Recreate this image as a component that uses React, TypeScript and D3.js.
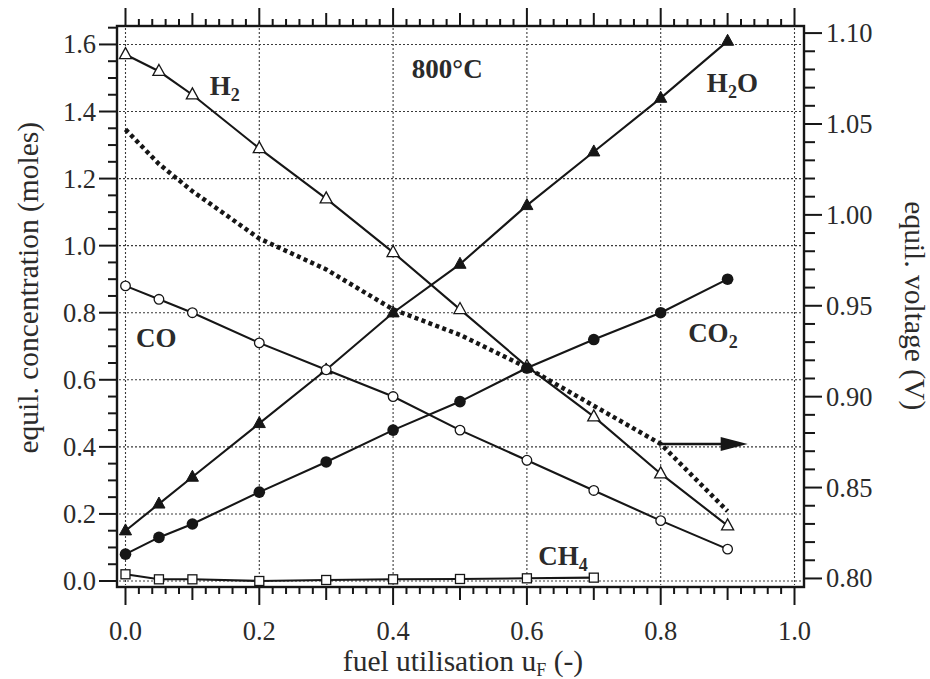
import React from "react";
import * as d3 from "d3";

// ---------- data ----------
const uF = [0, 0.05, 0.1, 0.2, 0.3, 0.4, 0.5, 0.6, 0.7, 0.8, 0.9];
const H2 = [1.57, 1.52, 1.45, 1.29, 1.14, 0.98, 0.81, 0.64, 0.49, 0.32, 0.165];
const H2O = [0.15, 0.23, 0.31, 0.47, 0.63, 0.8, 0.945, 1.12, 1.28, 1.44, 1.61];
const CO = [0.88, 0.84, 0.8, 0.71, 0.63, 0.55, 0.45, 0.36, 0.27, 0.18, 0.095];
const CO2 = [0.08, 0.13, 0.17, 0.265, 0.355, 0.45, 0.535, 0.635, 0.72, 0.8, 0.9];
const uF_CH4 = [0, 0.05, 0.1, 0.2, 0.3, 0.4, 0.5, 0.6, 0.7];
const CH4 = [0.02, 0.005, 0.005, 0.0, 0.003, 0.005, 0.006, 0.008, 0.01];
const VOLT = [1.047, 1.028, 1.013, 0.987, 0.97, 0.948, 0.934, 0.916, 0.895, 0.874, 0.837];

const X_TICKS = [0, 0.2, 0.4, 0.6, 0.8, 1.0];
const X_LABELS = ["0.0", "0.2", "0.4", "0.6", "0.8", "1.0"];
const Y_TICKS = [0, 0.2, 0.4, 0.6, 0.8, 1.0, 1.2, 1.4, 1.6];
const Y_LABELS = ["0.0", "0.2", "0.4", "0.6", "0.8", "1.0", "1.2", "1.4", "1.6"];
const V_TICKS = [0.8, 0.85, 0.9, 0.95, 1.0, 1.05, 1.1];
const V_LABELS = ["0.80", "0.85", "0.90", "0.95", "1.00", "1.05", "1.10"];

const X_TITLE = "fuel utilisation u";
const Y_TITLE = "equil. concentration (moles)";
const V_TITLE = "equil. voltage (V)";
const TEMP_LABEL = "800°C";

// arrow annotation (points to right axis) in data units
const ARROW = { from: 0.8, to: 0.93, v: 0.874 };

// ---------- layout ----------
const W = 930;
const H = 679;
const FL = 117, FR = 804, FT = 26, FB = 587;
const X_DOMAIN = [-0.0127, 1.0142];
const Y_DOMAIN = [-0.0179, 1.655];
const V_DOMAIN = [0.7953, 1.1039];

const FONT = "'Liberation Serif', 'Times New Roman', serif";
const INK = "#161616";
const TXT = "#2b2b2b";

export default function App() {
  const x = d3.scaleLinear().domain(X_DOMAIN).range([FL, FR]);
  const y = d3.scaleLinear().domain(Y_DOMAIN).range([FB, FT]);
  const yv = d3.scaleLinear().domain(V_DOMAIN).range([FB, FT]);

  const line = d3
    .line<[number, number]>()
    .x((d) => x(d[0]))
    .y((d) => y(d[1]));
  const vline = d3
    .line<[number, number]>()
    .x((d) => x(d[0]))
    .y((d) => yv(d[1]));

  const zip = (xs: number[], ys: number[]) => xs.map((v, i) => [v, ys[i]] as [number, number]);

  const h2 = zip(uF, H2);
  const h2o = zip(uF, H2O);
  const co = zip(uF, CO);
  const co2 = zip(uF, CO2);
  const ch4 = zip(uF_CH4, CH4);
  const volt = zip(uF, VOLT);

  // tick sets
  const bottomTicks = d3.range(0, 51).map((i) => ({ v: i * 0.02, kind: i % 10 === 0 ? 2 : i % 5 === 0 ? 1 : 0 }));
  const leftTicks = d3.range(0, 34).map((i) => ({ v: i * 0.05, kind: i % 4 === 0 ? 2 : 0 })).filter((t) => t.v <= Y_DOMAIN[1]);
  const rightTicks = d3.range(0, 31).map((i) => ({ v: 0.8 + i * 0.01, kind: i % 5 === 0 ? 2 : 0 }));
  const hLen = [7, 13, 18];
  const vLen = [9, 9, 18];
  const rLen = [11, 11, 18];

  const tri = (cx: number, cy: number, s: number) =>
    `M${cx},${cy - s * 0.62} L${cx + s * 0.55},${cy + s * 0.38} L${cx - s * 0.55},${cy + s * 0.38} Z`;

  const subStyle = { fontSize: 18 } as React.CSSProperties;

  return (
    <svg
      width={W}
      height={H}
      viewBox={`0 0 ${W} ${H}`}
      style={{ position: "absolute", left: 0, top: 0, background: "#ffffff" }}
      fontFamily={FONT}
    >
      <rect x={0} y={0} width={W} height={H} fill="#fff" />

      {/* grid */}
      <g stroke="#3a3a3a" strokeWidth={1.1} strokeDasharray="2,2" fill="none">
        {X_TICKS.map((t) => (
          <line key={"gx" + t} x1={x(t)} x2={x(t)} y1={FT + 2} y2={FB - 2} />
        ))}
        {Y_TICKS.map((t) => (
          <line key={"gy" + t} x1={FL + 2} x2={FR - 2} y1={y(t)} y2={y(t)} />
        ))}
      </g>

      {/* frame */}
      <rect x={FL} y={FT} width={FR - FL} height={FB - FT} fill="none" stroke={INK} strokeWidth={2.4} />

      {/* ticks */}
      <g stroke={INK} strokeWidth={2}>
        {bottomTicks.map((t, i) => (
          <g key={"bt" + i}>
            <line x1={x(t.v)} x2={x(t.v)} y1={FB} y2={FB + hLen[t.kind]} />
            <line x1={x(t.v)} x2={x(t.v)} y1={FT} y2={FT - hLen[t.kind]} />
          </g>
        ))}
        {leftTicks.map((t, i) => (
          <line key={"lt" + i} x1={FL} x2={FL - vLen[t.kind]} y1={y(t.v)} y2={y(t.v)} />
        ))}
        {rightTicks.map((t, i) => (
          <line key={"rt" + i} x1={FR} x2={FR + rLen[t.kind]} y1={yv(t.v)} y2={yv(t.v)} />
        ))}
      </g>

      {/* tick labels */}
      <g fill={TXT} fontSize={26.5}>
        {X_TICKS.map((t, i) => (
          <text key={"xl" + t} x={x(t)} y={640} textAnchor="middle">
            {X_LABELS[i]}
          </text>
        ))}
        {Y_TICKS.map((t, i) => (
          <text key={"yl" + t} x={FL - 21} y={y(t)} dy="0.34em" textAnchor="end">
            {Y_LABELS[i]}
          </text>
        ))}
        {V_TICKS.map((t, i) => (
          <text key={"vl" + t} x={FR + 22} y={yv(t)} dy="0.34em" textAnchor="start">
            {V_LABELS[i]}
          </text>
        ))}
      </g>

      {/* axis titles */}
      <g fill={TXT} fontSize={29.5}>
        <text x={(x(0) + x(1)) / 2 + 3} y={671} textAnchor="middle">
          {X_TITLE}
          <tspan fontSize={18} dy={5}>F</tspan>
          <tspan dy={-5}> (-)</tspan>
        </text>
        <text transform={`translate(38, ${(y(0) + y(1.6)) / 2 - 25}) rotate(-90)`} textAnchor="middle">
          {Y_TITLE}
        </text>
        <text transform={`translate(905, ${(yv(0.8) + yv(1.1)) / 2}) rotate(90)`} textAnchor="middle">
          {V_TITLE}
        </text>
      </g>

      {/* voltage (dotted, right axis) */}
      <path d={vline(volt) || ""} fill="none" stroke={INK} strokeWidth={4.5} strokeDasharray="4,3.4" />

      {/* arrow */}
      <line x1={x(ARROW.from)} x2={x(ARROW.to) - 24} y1={yv(ARROW.v)} y2={yv(ARROW.v)} stroke={INK} strokeWidth={2.4} />
      <path
        d={`M${x(ARROW.to)},${yv(ARROW.v)} L${x(ARROW.to) - 27},${yv(ARROW.v) - 7} L${x(ARROW.to) - 27},${yv(ARROW.v) + 7} Z`}
        fill={INK}
      />

      {/* series lines */}
      <g fill="none" stroke={INK} strokeWidth={2.1}>
        <path d={line(h2) || ""} />
        <path d={line(h2o) || ""} />
        <path d={line(co) || ""} />
        <path d={line(co2) || ""} />
        <path d={line(ch4) || ""} />
      </g>

      {/* markers */}
      <g>
        {h2.map((d, i) => (
          <path key={"m1" + i} d={tri(x(d[0]), y(d[1]), 11)} fill="#fff" stroke={INK} strokeWidth={1.3} />
        ))}
        {h2o.map((d, i) => (
          <path key={"m2" + i} d={tri(x(d[0]), y(d[1]), 11)} fill={INK} stroke={INK} strokeWidth={1} />
        ))}
        {co.map((d, i) => (
          <circle key={"m3" + i} cx={x(d[0])} cy={y(d[1])} r={4.8} fill="#fff" stroke={INK} strokeWidth={1.3} />
        ))}
        {co2.map((d, i) => (
          <circle key={"m4" + i} cx={x(d[0])} cy={y(d[1])} r={5.8} fill={INK} />
        ))}
        {ch4.map((d, i) => (
          <rect key={"m5" + i} x={x(d[0]) - 4.5} y={y(d[1]) - 4.5} width={9} height={9} fill="#fff" stroke={INK} strokeWidth={1.3} />
        ))}
      </g>

      {/* series labels */}
      <g fill={TXT} fontSize={27} fontWeight="bold">
        <text x={x(0.126)} y={y(1.449)}>
          H<tspan style={subStyle} dy={6}>2</tspan>
        </text>
        <text x={x(0.428)} y={y(1.499)}>{TEMP_LABEL}</text>
        <text x={x(0.869)} y={y(1.459)}>
          H<tspan style={subStyle} dy={6}>2</tspan>
          <tspan dy={-6}>O</tspan>
        </text>
        <text x={x(0.0157)} y={y(0.699)}>CO</text>
        <text x={x(0.841)} y={y(0.7136)}>
          CO<tspan style={subStyle} dy={6}>2</tspan>
        </text>
        <text x={x(0.617)} y={y(0.0477)}>
          CH<tspan style={subStyle} dy={6}>4</tspan>
        </text>
      </g>
    </svg>
  );
}
